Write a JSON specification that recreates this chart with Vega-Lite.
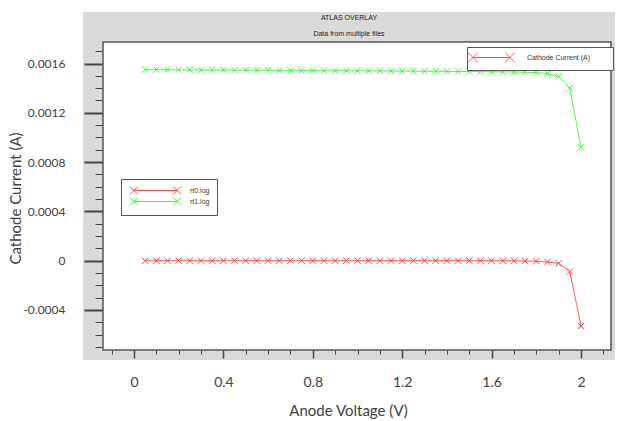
{
  "$schema": "https://vega.github.io/schema/vega-lite/v6.json",
  "width": 532,
  "height": 348,
  "autosize": "none",
  "padding": {"left": 83, "top": 12, "right": 8, "bottom": 61},
  "background": "white",
  "view": {"fill": "#d9d9d9", "stroke": null},
  "title": {
    "text": "ATLAS OVERLAY",
    "subtitle": "Data from multiple files",
    "anchor": "middle",
    "frame": "group",
    "offset": -25,
    "font": "Liberation Sans",
    "fontSize": 7,
    "fontWeight": "normal",
    "color": "#222",
    "subtitleFont": "Liberation Sans",
    "subtitleFontSize": 7,
    "subtitleColor": "#222",
    "subtitlePadding": 9
  },
  "datasets": {
    "iv": [
      {"voltage": 0.05, "current": 0.000000, "file": "rt0.log", "quantity": "Cathode Current (A)"},
      {"voltage": 0.10, "current": 0.000000, "file": "rt0.log", "quantity": "Cathode Current (A)"},
      {"voltage": 0.15, "current": 0.000000, "file": "rt0.log", "quantity": "Cathode Current (A)"},
      {"voltage": 0.20, "current": 0.000000, "file": "rt0.log", "quantity": "Cathode Current (A)"},
      {"voltage": 0.25, "current": 0.000000, "file": "rt0.log", "quantity": "Cathode Current (A)"},
      {"voltage": 0.30, "current": 0.000000, "file": "rt0.log", "quantity": "Cathode Current (A)"},
      {"voltage": 0.35, "current": 0.000000, "file": "rt0.log", "quantity": "Cathode Current (A)"},
      {"voltage": 0.40, "current": 0.000000, "file": "rt0.log", "quantity": "Cathode Current (A)"},
      {"voltage": 0.45, "current": 0.000000, "file": "rt0.log", "quantity": "Cathode Current (A)"},
      {"voltage": 0.50, "current": 0.000000, "file": "rt0.log", "quantity": "Cathode Current (A)"},
      {"voltage": 0.55, "current": 0.000000, "file": "rt0.log", "quantity": "Cathode Current (A)"},
      {"voltage": 0.60, "current": 0.000000, "file": "rt0.log", "quantity": "Cathode Current (A)"},
      {"voltage": 0.65, "current": 0.000000, "file": "rt0.log", "quantity": "Cathode Current (A)"},
      {"voltage": 0.70, "current": 0.000000, "file": "rt0.log", "quantity": "Cathode Current (A)"},
      {"voltage": 0.75, "current": 0.000000, "file": "rt0.log", "quantity": "Cathode Current (A)"},
      {"voltage": 0.80, "current": 0.000000, "file": "rt0.log", "quantity": "Cathode Current (A)"},
      {"voltage": 0.85, "current": 0.000000, "file": "rt0.log", "quantity": "Cathode Current (A)"},
      {"voltage": 0.90, "current": 0.000000, "file": "rt0.log", "quantity": "Cathode Current (A)"},
      {"voltage": 0.95, "current": 0.000000, "file": "rt0.log", "quantity": "Cathode Current (A)"},
      {"voltage": 1.00, "current": 0.000000, "file": "rt0.log", "quantity": "Cathode Current (A)"},
      {"voltage": 1.05, "current": 0.000000, "file": "rt0.log", "quantity": "Cathode Current (A)"},
      {"voltage": 1.10, "current": 0.000000, "file": "rt0.log", "quantity": "Cathode Current (A)"},
      {"voltage": 1.15, "current": 0.000000, "file": "rt0.log", "quantity": "Cathode Current (A)"},
      {"voltage": 1.20, "current": 0.000000, "file": "rt0.log", "quantity": "Cathode Current (A)"},
      {"voltage": 1.25, "current": 0.000000, "file": "rt0.log", "quantity": "Cathode Current (A)"},
      {"voltage": 1.30, "current": 0.000000, "file": "rt0.log", "quantity": "Cathode Current (A)"},
      {"voltage": 1.35, "current": 0.000000, "file": "rt0.log", "quantity": "Cathode Current (A)"},
      {"voltage": 1.40, "current": 0.000000, "file": "rt0.log", "quantity": "Cathode Current (A)"},
      {"voltage": 1.45, "current": 0.000000, "file": "rt0.log", "quantity": "Cathode Current (A)"},
      {"voltage": 1.50, "current": 0.000000, "file": "rt0.log", "quantity": "Cathode Current (A)"},
      {"voltage": 1.55, "current": 0.000000, "file": "rt0.log", "quantity": "Cathode Current (A)"},
      {"voltage": 1.60, "current": 0.000000, "file": "rt0.log", "quantity": "Cathode Current (A)"},
      {"voltage": 1.65, "current": -0.000001, "file": "rt0.log", "quantity": "Cathode Current (A)"},
      {"voltage": 1.70, "current": -0.000001, "file": "rt0.log", "quantity": "Cathode Current (A)"},
      {"voltage": 1.75, "current": -0.000002, "file": "rt0.log", "quantity": "Cathode Current (A)"},
      {"voltage": 1.80, "current": -0.000004, "file": "rt0.log", "quantity": "Cathode Current (A)"},
      {"voltage": 1.85, "current": -0.000010, "file": "rt0.log", "quantity": "Cathode Current (A)"},
      {"voltage": 1.90, "current": -0.000022, "file": "rt0.log", "quantity": "Cathode Current (A)"},
      {"voltage": 1.95, "current": -0.000088, "file": "rt0.log", "quantity": "Cathode Current (A)"},
      {"voltage": 2.00, "current": -0.000530, "file": "rt0.log", "quantity": "Cathode Current (A)"},
      {"voltage": 0.05, "current": 0.001550, "file": "rt1.log", "quantity": "Cathode Current (A)"},
      {"voltage": 0.10, "current": 0.001550, "file": "rt1.log", "quantity": "Cathode Current (A)"},
      {"voltage": 0.15, "current": 0.001549, "file": "rt1.log", "quantity": "Cathode Current (A)"},
      {"voltage": 0.20, "current": 0.001549, "file": "rt1.log", "quantity": "Cathode Current (A)"},
      {"voltage": 0.25, "current": 0.001548, "file": "rt1.log", "quantity": "Cathode Current (A)"},
      {"voltage": 0.30, "current": 0.001548, "file": "rt1.log", "quantity": "Cathode Current (A)"},
      {"voltage": 0.35, "current": 0.001547, "file": "rt1.log", "quantity": "Cathode Current (A)"},
      {"voltage": 0.40, "current": 0.001547, "file": "rt1.log", "quantity": "Cathode Current (A)"},
      {"voltage": 0.45, "current": 0.001546, "file": "rt1.log", "quantity": "Cathode Current (A)"},
      {"voltage": 0.50, "current": 0.001546, "file": "rt1.log", "quantity": "Cathode Current (A)"},
      {"voltage": 0.55, "current": 0.001545, "file": "rt1.log", "quantity": "Cathode Current (A)"},
      {"voltage": 0.60, "current": 0.001545, "file": "rt1.log", "quantity": "Cathode Current (A)"},
      {"voltage": 0.65, "current": 0.001544, "file": "rt1.log", "quantity": "Cathode Current (A)"},
      {"voltage": 0.70, "current": 0.001544, "file": "rt1.log", "quantity": "Cathode Current (A)"},
      {"voltage": 0.75, "current": 0.001543, "file": "rt1.log", "quantity": "Cathode Current (A)"},
      {"voltage": 0.80, "current": 0.001543, "file": "rt1.log", "quantity": "Cathode Current (A)"},
      {"voltage": 0.85, "current": 0.001542, "file": "rt1.log", "quantity": "Cathode Current (A)"},
      {"voltage": 0.90, "current": 0.001542, "file": "rt1.log", "quantity": "Cathode Current (A)"},
      {"voltage": 0.95, "current": 0.001541, "file": "rt1.log", "quantity": "Cathode Current (A)"},
      {"voltage": 1.00, "current": 0.001541, "file": "rt1.log", "quantity": "Cathode Current (A)"},
      {"voltage": 1.05, "current": 0.001540, "file": "rt1.log", "quantity": "Cathode Current (A)"},
      {"voltage": 1.10, "current": 0.001540, "file": "rt1.log", "quantity": "Cathode Current (A)"},
      {"voltage": 1.15, "current": 0.001539, "file": "rt1.log", "quantity": "Cathode Current (A)"},
      {"voltage": 1.20, "current": 0.001539, "file": "rt1.log", "quantity": "Cathode Current (A)"},
      {"voltage": 1.25, "current": 0.001538, "file": "rt1.log", "quantity": "Cathode Current (A)"},
      {"voltage": 1.30, "current": 0.001537, "file": "rt1.log", "quantity": "Cathode Current (A)"},
      {"voltage": 1.35, "current": 0.001537, "file": "rt1.log", "quantity": "Cathode Current (A)"},
      {"voltage": 1.40, "current": 0.001536, "file": "rt1.log", "quantity": "Cathode Current (A)"},
      {"voltage": 1.45, "current": 0.001535, "file": "rt1.log", "quantity": "Cathode Current (A)"},
      {"voltage": 1.50, "current": 0.001535, "file": "rt1.log", "quantity": "Cathode Current (A)"},
      {"voltage": 1.55, "current": 0.001534, "file": "rt1.log", "quantity": "Cathode Current (A)"},
      {"voltage": 1.60, "current": 0.001533, "file": "rt1.log", "quantity": "Cathode Current (A)"},
      {"voltage": 1.65, "current": 0.001532, "file": "rt1.log", "quantity": "Cathode Current (A)"},
      {"voltage": 1.70, "current": 0.001531, "file": "rt1.log", "quantity": "Cathode Current (A)"},
      {"voltage": 1.75, "current": 0.001529, "file": "rt1.log", "quantity": "Cathode Current (A)"},
      {"voltage": 1.80, "current": 0.001526, "file": "rt1.log", "quantity": "Cathode Current (A)"},
      {"voltage": 1.85, "current": 0.001519, "file": "rt1.log", "quantity": "Cathode Current (A)"},
      {"voltage": 1.90, "current": 0.001494, "file": "rt1.log", "quantity": "Cathode Current (A)"},
      {"voltage": 1.95, "current": 0.001400, "file": "rt1.log", "quantity": "Cathode Current (A)"},
      {"voltage": 2.00, "current": 0.000920, "file": "rt1.log", "quantity": "Cathode Current (A)"}
    ],
    "frame": [{"part": "plot frame"}]
  },
  "layer": [
    {
      "data": {"name": "frame"},
      "mark": {"type": "rect", "fill": "white", "stroke": "#555", "strokeWidth": 1.5},
      "encoding": {
        "x": {
          "datum": -0.1387,
          "type": "quantitative",
          "scale": {"domain": [-0.2282, 2.1521], "nice": false, "zero": false},
          "axis": {
            "orient": "bottom", "offset": -10, "domain": false, "grid": false,
            "values": [-0.1, 0, 0.1, 0.2, 0.3, 0.4, 0.5, 0.6, 0.7, 0.8, 0.9, 1.0, 1.1, 1.2, 1.3, 1.4, 1.5, 1.6, 1.7, 1.8, 1.9, 2.0, 2.1],
            "tickColor": "#444",
            "tickSize": {"condition": {"test": "abs(round(datum.value*10)) % 4 == 0", "value": 8}, "value": 4},
            "tickWidth": {"condition": {"test": "abs(round(datum.value*10)) % 4 == 0", "value": 1.5}, "value": 1},
            "labelExpr": "abs(round(datum.value*10)) % 4 == 0 ? format(datum.value, '~g') : ''",
            "labelFont": "Lato", "labelFontSize": 14, "labelColor": "#404040", "labelPadding": 17,
            "labelFlush": false, "labelOverlap": false,
            "title": "Anode Voltage (V)", "titleFont": "Lato", "titleFontSize": 15, "titleFontWeight": "normal",
            "titleColor": "#404040", "titleX": 265, "titleY": 60, "titleAnchor": null,
            "titleBaseline": "middle", "titleAlign": "center"
          }
        },
        "x2": {"datum": 2.1342},
        "y": {
          "datum": 0.0017744,
          "type": "quantitative",
          "scale": {"domain": [-0.0008057, 0.0020179], "nice": false, "zero": false},
          "axis": {
            "orient": "left", "offset": -20, "domain": false, "grid": false,
            "values": [-0.0007, -0.0006, -0.0005, -0.0004, -0.0003, -0.0002, -0.0001, 0, 0.0001, 0.0002, 0.0003, 0.0004, 0.0005, 0.0006, 0.0007, 0.0008, 0.0009, 0.001, 0.0011, 0.0012, 0.0013, 0.0014, 0.0015, 0.0016, 0.0017],
            "tickColor": "#444",
            "tickSize": {"condition": {"test": "abs(round(datum.value*10000)) % 4 == 0", "value": 19}, "value": 8},
            "tickWidth": {"condition": {"test": "abs(round(datum.value*10000)) % 4 == 0", "value": 2}, "value": 1},
            "labelExpr": "abs(round(datum.value*10000)) % 4 == 0 ? (datum.value < 0 ? '-' : '') + format(abs(datum.value), '~g') : ''",
            "labelFont": "Lato", "labelFontSize": 12, "labelColor": "#404040", "labelPadding": 19,
            "labelFlush": false, "labelOverlap": false,
            "title": "Cathode Current (A)", "titleFont": "Lato", "titleFontSize": 15, "titleFontWeight": "normal",
            "titleColor": "#404040", "titleX": -88, "titleY": 186, "titleAngle": -90, "titleAnchor": null,
            "titleBaseline": "middle", "titleAlign": "center"
          }
        },
        "y2": {"datum": -0.0007245}
      }
    },
    {
      "data": {"name": "iv"},
      "mark": {"type": "line", "strokeWidth": 1},
      "encoding": {
        "x": {
          "field": "voltage",
          "type": "quantitative",
          "scale": {"domain": [-0.2282, 2.1521], "nice": false, "zero": false},
          "axis": {
            "orient": "bottom", "offset": -10, "domain": false, "grid": false,
            "values": [-0.1, 0, 0.1, 0.2, 0.3, 0.4, 0.5, 0.6, 0.7, 0.8, 0.9, 1.0, 1.1, 1.2, 1.3, 1.4, 1.5, 1.6, 1.7, 1.8, 1.9, 2.0, 2.1],
            "tickColor": "#444",
            "tickSize": {"condition": {"test": "abs(round(datum.value*10)) % 4 == 0", "value": 8}, "value": 4},
            "tickWidth": {"condition": {"test": "abs(round(datum.value*10)) % 4 == 0", "value": 1.5}, "value": 1},
            "labelExpr": "abs(round(datum.value*10)) % 4 == 0 ? format(datum.value, '~g') : ''",
            "labelFont": "Lato", "labelFontSize": 14, "labelColor": "#404040", "labelPadding": 17,
            "labelFlush": false, "labelOverlap": false,
            "title": "Anode Voltage (V)", "titleFont": "Lato", "titleFontSize": 15, "titleFontWeight": "normal",
            "titleColor": "#404040", "titleX": 265, "titleY": 60, "titleAnchor": null,
            "titleBaseline": "middle", "titleAlign": "center"
          }
        },
        "y": {
          "field": "current",
          "type": "quantitative",
          "scale": {"domain": [-0.0008057, 0.0020179], "nice": false, "zero": false},
          "axis": {
            "orient": "left", "offset": -20, "domain": false, "grid": false,
            "values": [-0.0007, -0.0006, -0.0005, -0.0004, -0.0003, -0.0002, -0.0001, 0, 0.0001, 0.0002, 0.0003, 0.0004, 0.0005, 0.0006, 0.0007, 0.0008, 0.0009, 0.001, 0.0011, 0.0012, 0.0013, 0.0014, 0.0015, 0.0016, 0.0017],
            "tickColor": "#444",
            "tickSize": {"condition": {"test": "abs(round(datum.value*10000)) % 4 == 0", "value": 19}, "value": 8},
            "tickWidth": {"condition": {"test": "abs(round(datum.value*10000)) % 4 == 0", "value": 2}, "value": 1},
            "labelExpr": "abs(round(datum.value*10000)) % 4 == 0 ? (datum.value < 0 ? '-' : '') + format(abs(datum.value), '~g') : ''",
            "labelFont": "Lato", "labelFontSize": 12, "labelColor": "#404040", "labelPadding": 19,
            "labelFlush": false, "labelOverlap": false,
            "title": "Cathode Current (A)", "titleFont": "Lato", "titleFontSize": 15, "titleFontWeight": "normal",
            "titleColor": "#404040", "titleX": -88, "titleY": 186, "titleAngle": -90, "titleAnchor": null,
            "titleBaseline": "middle", "titleAlign": "center"
          }
        },
        "color": {
          "field": "file",
          "type": "nominal",
          "scale": {"domain": ["rt0.log", "rt1.log"], "range": ["#ff4444", "#44ee44"]},
          "legend": {
            "orient": "none",
            "legendX": 38,
            "legendY": 167,
            "title": null,
            "symbolType": "M-5.4,0L5.4,0M-6.4,-1L-4.4,1M-6.4,1L-4.4,-1M4.4,-1L6.4,1M4.4,1L6.4,-1",
            "symbolSize": 64,
            "symbolStrokeWidth": 1,
            "symbolFillColor": "transparent",
            "symbolOffset": 23,
            "labelOffset": 30,
            "padding": 7,
            "rowPadding": -3,
            "strokeColor": "#555",
            "fillColor": "white",
            "labelFont": "Liberation Sans",
            "labelFontSize": 7,
            "labelColor": "#333"
          }
        },
        "strokeDash": {
          "field": "quantity",
          "type": "nominal",
          "scale": {"range": [[1, 0]]},
          "legend": {
            "orient": "none",
            "legendX": 384,
            "legendY": 35,
            "title": null,
            "symbolType": "M-3.7,0L3.7,0M-4.7,-1L-2.7,1M-4.7,1L-2.7,-1M2.7,-1L4.7,1M2.7,1L4.7,-1M22.9,0",
            "symbolSize": 100,
            "symbolStrokeWidth": 1,
            "symbolStrokeColor": "#ff4444",
            "symbolFillColor": "transparent",
            "symbolOffset": 14,
            "labelOffset": 30,
            "padding": 5,
            "strokeColor": "#555",
            "fillColor": "white",
            "labelFont": "Liberation Sans",
            "labelFontSize": 7,
            "labelColor": "#333"
          }
        }
      }
    },
    {
      "data": {"name": "iv"},
      "mark": {"type": "point", "shape": "M-1,-1L1,1M-1,1L1,-1", "filled": false, "strokeWidth": 1, "size": 40, "opacity": 1},
      "encoding": {
        "x": {
          "field": "voltage",
          "type": "quantitative",
          "scale": {"domain": [-0.2282, 2.1521], "nice": false, "zero": false},
          "axis": {
            "orient": "bottom", "offset": -10, "domain": false, "grid": false,
            "values": [-0.1, 0, 0.1, 0.2, 0.3, 0.4, 0.5, 0.6, 0.7, 0.8, 0.9, 1.0, 1.1, 1.2, 1.3, 1.4, 1.5, 1.6, 1.7, 1.8, 1.9, 2.0, 2.1],
            "tickColor": "#444",
            "tickSize": {"condition": {"test": "abs(round(datum.value*10)) % 4 == 0", "value": 8}, "value": 4},
            "tickWidth": {"condition": {"test": "abs(round(datum.value*10)) % 4 == 0", "value": 1.5}, "value": 1},
            "labelExpr": "abs(round(datum.value*10)) % 4 == 0 ? format(datum.value, '~g') : ''",
            "labelFont": "Lato", "labelFontSize": 14, "labelColor": "#404040", "labelPadding": 17,
            "labelFlush": false, "labelOverlap": false,
            "title": "Anode Voltage (V)", "titleFont": "Lato", "titleFontSize": 15, "titleFontWeight": "normal",
            "titleColor": "#404040", "titleX": 265, "titleY": 60, "titleAnchor": null,
            "titleBaseline": "middle", "titleAlign": "center"
          }
        },
        "y": {
          "field": "current",
          "type": "quantitative",
          "scale": {"domain": [-0.0008057, 0.0020179], "nice": false, "zero": false},
          "axis": {
            "orient": "left", "offset": -20, "domain": false, "grid": false,
            "values": [-0.0007, -0.0006, -0.0005, -0.0004, -0.0003, -0.0002, -0.0001, 0, 0.0001, 0.0002, 0.0003, 0.0004, 0.0005, 0.0006, 0.0007, 0.0008, 0.0009, 0.001, 0.0011, 0.0012, 0.0013, 0.0014, 0.0015, 0.0016, 0.0017],
            "tickColor": "#444",
            "tickSize": {"condition": {"test": "abs(round(datum.value*10000)) % 4 == 0", "value": 19}, "value": 8},
            "tickWidth": {"condition": {"test": "abs(round(datum.value*10000)) % 4 == 0", "value": 2}, "value": 1},
            "labelExpr": "abs(round(datum.value*10000)) % 4 == 0 ? (datum.value < 0 ? '-' : '') + format(abs(datum.value), '~g') : ''",
            "labelFont": "Lato", "labelFontSize": 12, "labelColor": "#404040", "labelPadding": 19,
            "labelFlush": false, "labelOverlap": false,
            "title": "Cathode Current (A)", "titleFont": "Lato", "titleFontSize": 15, "titleFontWeight": "normal",
            "titleColor": "#404040", "titleX": -88, "titleY": 186, "titleAngle": -90, "titleAnchor": null,
            "titleBaseline": "middle", "titleAlign": "center"
          }
        },
        "color": {"field": "file", "type": "nominal"}
      }
    }
  ],
  "config": {
    "view": {"stroke": null}
  }
}
